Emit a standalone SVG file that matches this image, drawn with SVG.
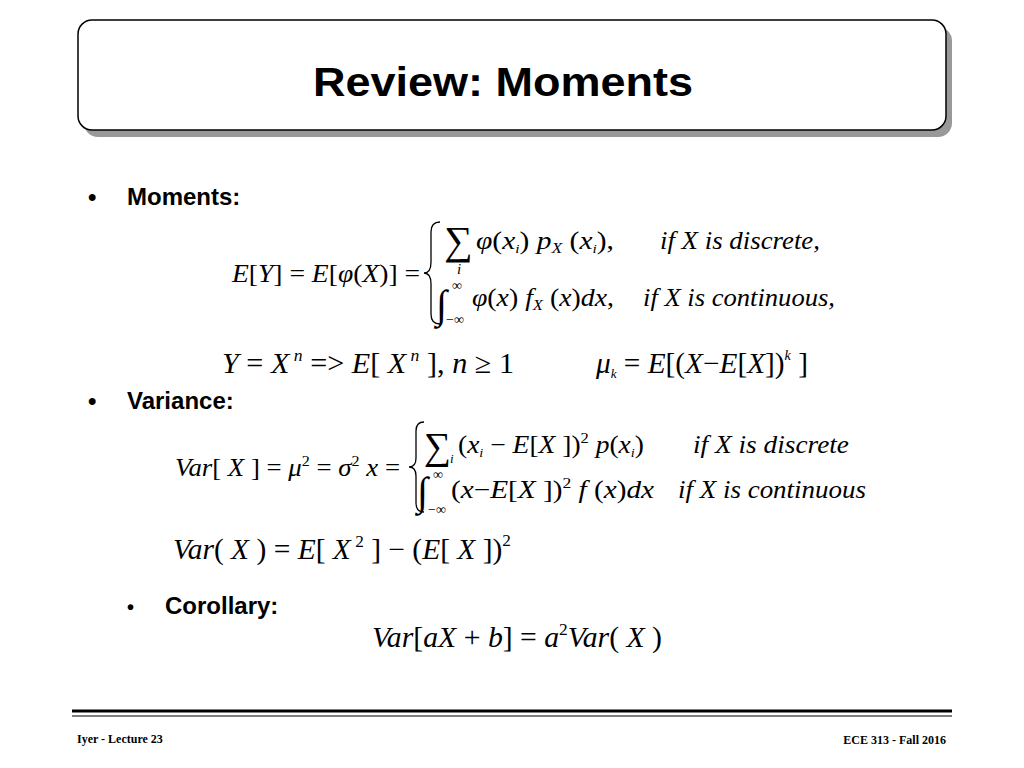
<svg xmlns="http://www.w3.org/2000/svg" width="1024" height="768" viewBox="0 0 1024 768">
<style>
.m{font-family:"Liberation Serif",serif;font-style:italic;font-size:25px;fill:#000}
.u{font-style:normal}
.b{font-family:"Liberation Sans",Arial,sans-serif;font-weight:bold;font-size:24px;fill:#000}
.f{font-family:"Liberation Serif",serif;font-weight:bold;font-size:12px}
.br{fill:none;stroke:#000;stroke-width:1.3}
</style>
<rect width="1024" height="768" fill="#fff"/>
<g id="title">
<rect x="84" y="27" width="868" height="110" rx="14" fill="#999"/>
<rect x="78" y="20" width="868" height="110" rx="14" fill="#fff" stroke="#000" stroke-width="1.5"/>
<text x="503" y="96" text-anchor="middle" font-family="Liberation Sans,Arial,sans-serif" font-weight="bold" font-size="40" textLength="380" lengthAdjust="spacingAndGlyphs">Review: Moments</text>
</g>
<g id="moments">
<text x="88" y="205" class="b">•</text><text x="127" y="205" class="b">Moments:</text>
<text x="232" y="282" class="m" textLength="188" lengthAdjust="spacingAndGlyphs">E<tspan class="u">[</tspan>Y<tspan class="u">] = </tspan>E<tspan class="u">[</tspan>φ<tspan class="u">(</tspan>X<tspan class="u">)] =</tspan></text>
<path class="br" d="M440,222 Q431,222 431,232 L431,262 Q431,273 424,273 Q431,273 431,284 L431,314 Q431,324 440,324"/>
<text x="444" y="254" class="m u" style="font-size:40px">∑</text>
<text x="457" y="274" class="m" style="font-size:15px">i</text>
<text x="476" y="249" class="m" textLength="138" lengthAdjust="spacingAndGlyphs">φ<tspan class="u">(</tspan>x<tspan style="font-size:13px" dy="4">i</tspan><tspan class="u" dy="-4">) </tspan>p<tspan style="font-size:15px" dy="4">X</tspan><tspan class="u" dy="-4"> (</tspan>x<tspan style="font-size:13px" dy="4">i</tspan><tspan class="u" dy="-4">),</tspan></text>
<text x="660" y="249" class="m" textLength="160" lengthAdjust="spacingAndGlyphs">if  X is discrete,</text>
<text x="436" y="318" class="m u" style="font-size:40px">∫</text>
<text x="452" y="290" class="m u" style="font-size:14px">∞</text>
<text x="446" y="324" class="m u" style="font-size:14px">−∞</text>
<text x="472" y="306" class="m" textLength="142" lengthAdjust="spacingAndGlyphs">φ<tspan class="u">(</tspan>x<tspan class="u">) </tspan>f<tspan style="font-size:15px" dy="4">X</tspan><tspan class="u" dy="-4"> (</tspan>x<tspan class="u">)</tspan>dx<tspan class="u">,</tspan></text>
<text x="643" y="306" class="m" textLength="192" lengthAdjust="spacingAndGlyphs">if  X is continuous,</text>
<text x="222" y="373" class="m" style="font-size:29px" textLength="292" lengthAdjust="spacingAndGlyphs">Y <tspan class="u">= </tspan>X<tspan style="font-size:17px" dy="-12"> n</tspan><tspan class="u" dy="12"> =&gt; </tspan>E<tspan class="u">[ </tspan>X<tspan style="font-size:17px" dy="-12"> n</tspan><tspan class="u" dy="12"> ],  </tspan>n <tspan class="u">≥ 1</tspan></text>
<text x="596" y="373" class="m" style="font-size:29px" textLength="212" lengthAdjust="spacingAndGlyphs">μ<tspan style="font-size:13px" dy="5">k</tspan><tspan class="u" dy="-5"> = </tspan>E<tspan class="u">[(</tspan>X<tspan class="u">−</tspan>E<tspan class="u">[</tspan>X<tspan class="u">])</tspan><tspan style="font-size:14px" dy="-13">k</tspan><tspan class="u" dy="13"> ]</tspan></text>
</g>
<g id="variance">
<text x="88" y="409" class="b">•</text><text x="127" y="409" class="b">Variance:</text>
<text x="175" y="476" class="m" textLength="225" lengthAdjust="spacingAndGlyphs">Var<tspan class="u">[ </tspan>X<tspan class="u"> ] = </tspan>μ<tspan class="u" style="font-size:15px" dy="-10">2</tspan><tspan class="u" dy="10"> = </tspan>σ<tspan class="u" style="font-size:15px" dy="-10">2</tspan><tspan dy="10"> x</tspan><tspan class="u"> =</tspan></text>
<path class="br" d="M424,422 Q416,422 416,431 L416,458 Q416,467 409,467 Q416,467 416,476 L416,503 Q416,512 424,512"/>
<text x="424" y="459" class="m u" style="font-size:38px">∑</text>
<text x="450" y="463" class="m" style="font-size:13px">i</text>
<text x="458" y="453" class="m" textLength="186" lengthAdjust="spacingAndGlyphs"><tspan class="u">(</tspan>x<tspan style="font-size:13px" dy="4">i</tspan><tspan class="u" dy="-4"> − </tspan>E<tspan class="u">[</tspan>X<tspan class="u"> ])</tspan><tspan class="u" style="font-size:15px" dy="-10">2</tspan><tspan dy="10"> p</tspan><tspan class="u">(</tspan>x<tspan style="font-size:13px" dy="4">i</tspan><tspan class="u" dy="-4">)</tspan></text>
<text x="693" y="453" class="m" textLength="156" lengthAdjust="spacingAndGlyphs">if  X is discrete</text>
<text x="417" y="505" class="m u" style="font-size:40px">∫</text>
<text x="433" y="479" class="m u" style="font-size:14px">∞</text>
<text x="428" y="514" class="m u" style="font-size:14px">−∞</text>
<text x="451" y="498" class="m" textLength="203" lengthAdjust="spacingAndGlyphs"><tspan class="u">(</tspan>x<tspan class="u">−</tspan>E<tspan class="u">[</tspan>X<tspan class="u"> ])</tspan><tspan class="u" style="font-size:15px" dy="-10">2</tspan><tspan dy="10"> f</tspan><tspan class="u"> (</tspan>x<tspan class="u">)</tspan>dx</text>
<text x="678" y="498" class="m" textLength="188" lengthAdjust="spacingAndGlyphs">if  X is continuous</text>
<text x="173" y="559" class="m" style="font-size:29px" textLength="338" lengthAdjust="spacingAndGlyphs">Var<tspan class="u">( </tspan>X<tspan class="u"> ) = </tspan>E<tspan class="u">[ </tspan>X<tspan class="u" style="font-size:17px" dy="-12"> 2</tspan><tspan class="u" dy="12"> ] − (</tspan>E<tspan class="u">[ </tspan>X<tspan class="u"> ])</tspan><tspan class="u" style="font-size:17px" dy="-13">2</tspan></text>
</g>
<g id="corollary">
<text x="127" y="614" class="b" style="font-size:20px">•</text><text x="165" y="614" class="b">Corollary:</text>
<text x="372" y="647" class="m" style="font-size:29px" textLength="290" lengthAdjust="spacingAndGlyphs">Var<tspan class="u">[</tspan>aX<tspan class="u"> + </tspan>b<tspan class="u">] = </tspan>a<tspan class="u" style="font-size:17px" dy="-12">2</tspan><tspan dy="12">Var</tspan><tspan class="u">( </tspan>X<tspan class="u"> )</tspan></text>
</g>
<g id="footer">
<line x1="72" y1="711" x2="952" y2="711" stroke="#000" stroke-width="3"/>
<line x1="72" y1="716" x2="952" y2="716" stroke="#000" stroke-width="1"/>
<text x="77" y="743" class="f">Iyer  - Lecture 23</text>
<text x="946" y="744" class="f" text-anchor="end">ECE 313 - Fall 2016</text>
</g>
</svg>
